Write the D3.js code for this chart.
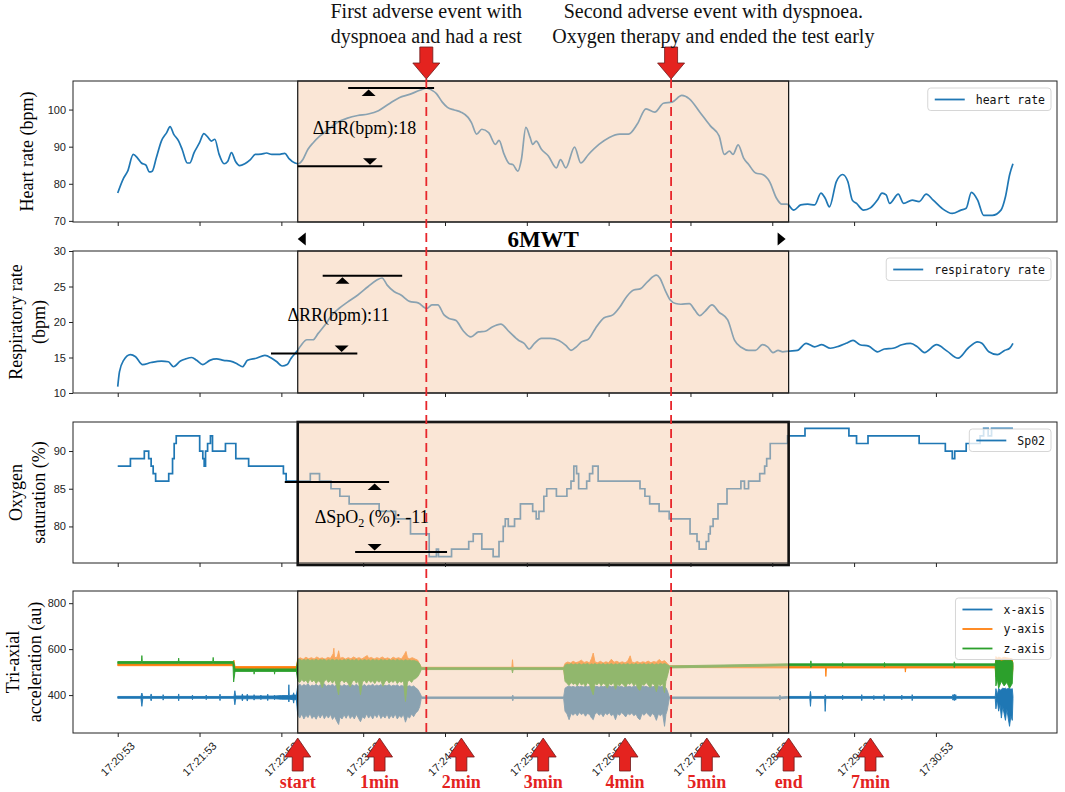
<!DOCTYPE html>
<html><head><meta charset="utf-8">
<script src="https://cdn.jsdelivr.net/npm/d3@7"></script>
<style>body{margin:0;background:#fff}svg{display:block}</style>
</head><body>
<svg id="c" width="1065" height="792"></svg>
<script>
// ---------------- DATA (time in seconds from 17:20:53) ----------------
const timeLabels = ["17:20:53","17:21:53","17:22:53","17:23:53","17:24:53","17:25:53","17:26:53","17:27:53","17:28:53","17:29:53","17:30:53"];
const tickSeconds = [0,60,120,180,240,300,360,420,480,540,600];
const testWindow = [132, 492];
const eventTimes = [226.3, 405.8];
const arrowTimes = [132,192,252,312,372,432,492,552];
const arrowLabels = ["start","1min","2min","3min","4min","5min","end","7min"];

const heartRate = [[0,77.5],[4.3,81.5],[7.3,83.4],[11.4,87.9],[14.4,87],[17.4,85.6],[20.7,85],[23.2,83.2],[25.3,83.4],[28.3,87],[32,91.5],[35.9,93.8],[38.4,95.4],[41,93.4],[44.7,91.5],[47.2,89.3],[51,85.6],[52.8,85.6],[56,88.4],[59.9,91],[63.2,93.5],[66.2,92.5],[68.7,91.5],[71.2,92],[74.3,88],[78,85.4],[80.6,86],[83.4,88.4],[86.4,86],[89.4,84.9],[93.2,85.4],[97.3,86.5],[100.8,87.9],[105.3,88],[109.1,88.3],[113,87.9],[118,87.9],[122.5,88.2],[125.6,86.8],[130,85.6],[132.6,85.4],[135.7,86.5],[139.5,89.3],[143.2,91],[148.3,92.9],[153.3,94.3],[161,96.5],[168.5,97.7],[176,98.4],[183.7,98.8],[191.2,99.7],[198.8,101.5],[206.4,103.2],[214,104.1],[221.6,105.2],[226.6,105.8],[230.4,105.2],[233.7,104.3],[238,102],[241.8,100.6],[246.8,99.9],[251.8,99.3],[256.9,97.9],[259.4,96.5],[263.2,93.4],[267,94.7],[272,93.8],[277,90.6],[279.6,91.7],[283.4,87.9],[287.2,85.4],[289.7,85.2],[293.5,83.4],[296,86.5],[299.3,95.2],[302.4,92.5],[304.3,90.6],[306.9,91.5],[310.7,89.3],[315.8,87.5],[321.7,84.3],[324.7,86.5],[328.6,84.3],[335,89.9],[339.6,85.6],[345.2,87.9],[352.9,90.6],[360.5,92.5],[368.2,93.4],[374.6,93.4],[381,96.1],[387.4,100.2],[393.8,99.3],[400.2,101.7],[406.5,102],[413.7,103.8],[419.2,102.9],[426.9,99.3],[434.6,95.6],[441,92.9],[444.8,87.9],[448.6,88.8],[451.2,87.9],[455,90.5],[458.9,87],[462.7,85.2],[467.8,82.9],[472.9,82.5],[478,80.6],[483.1,76.1],[487,74.5],[490.8,74.5],[495.8,72.9],[500.9,74.3],[506,74.5],[511.1,74.3],[515.7,77.5],[518.8,76.1],[521.9,73.8],[527,80.6],[531.6,82.5],[535.4,80.6],[538.7,75.6],[541.8,74.7],[546.9,72.9],[552,73.5],[557.1,75.6],[560.5,77.5],[563.5,77],[566.1,74.7],[572.4,77.2],[576.3,74.7],[582.6,75.6],[587.7,75.2],[592.9,77.2],[598,75.6],[604.4,73.4],[612,72],[618.4,72.9],[622.2,73.4],[626,77.7],[630.6,75.6],[635,71.5],[641.4,71.5],[647.7,72.9],[651,76.5],[654.1,82.5],[656.5,85.4]];

const respiratoryRate = [[0,10.9],[1.3,13],[4.3,14.6],[9.3,15.4],[13.1,15.1],[18.2,14],[24.5,14.3],[32.1,14.5],[37.1,14.4],[40.9,13.7],[46,14.5],[49.8,14.8],[54.3,15],[57.9,14.6],[62.4,14],[67.5,14.6],[72.5,14.8],[77.6,14.6],[82.6,14.5],[87.7,14.1],[91.5,13.7],[95.2,14.6],[101.6,14.9],[107.9,15.3],[112.9,14.9],[116.7,14.4],[120.5,13.8],[124.3,14],[126.8,14.8],[131.1,15.8],[134.4,16.7],[138.7,17.5],[143.2,17.5],[147,18.4],[152.1,19.6],[157.1,21],[162.2,21.9],[168.5,22.8],[176.1,23.8],[183.7,25],[190,25.9],[193.8,26.2],[197.6,25.2],[202.6,24.3],[207.7,23.8],[214,22.9],[220.3,22.7],[226.6,21.9],[230.4,22.4],[234.7,22.4],[239.3,21],[243.1,20.5],[248.1,20.2],[253.2,18.8],[259,17.9],[264.5,18.6],[269.6,18.7],[274.6,19.3],[280.9,19.7],[287.2,18.6],[294.1,17.4],[298,17],[301.8,16.2],[305.6,17],[310.7,17.7],[317.1,17.7],[323.5,17.4],[328.6,16.7],[332.4,16],[336.3,16.5],[340.1,17.2],[345.2,17.6],[350.3,19.1],[356.7,20.6],[363.1,21],[368.2,22.1],[373.3,23.6],[378.4,24.5],[383.5,24.7],[388.6,25.7],[395,26.6],[397.5,26.2],[401.4,24.5],[405.2,23.1],[409.1,22.6],[412.9,22.5],[419.2,22.6],[423.1,21.7],[426.9,20.9],[430.7,21.5],[435.8,22.4],[440.9,21.4],[447.3,20.3],[452.4,17.4],[457.5,16.4],[462.6,16],[467.7,16],[472.8,16.8],[476.6,16.5],[480.5,15.7],[484.3,16],[487.7,15.8],[492,15.9],[498.4,16],[504.8,17],[511.1,16.5],[516.3,16.8],[522.6,16.3],[529,16.6],[534.1,17],[539.2,17.4],[544.3,16.8],[550.7,16.6],[557.1,15.8],[562.2,16.2],[568.6,16.3],[575,16.8],[581.4,17],[586.5,16.5],[591.6,15.7],[600.5,16.8],[608.2,15.9],[616.3,14.9],[623.5,16.3],[630.6,17.2],[633.7,17],[638.8,15.8],[645.1,15.4],[650.3,16],[654.1,16.3],[656.5,17]];

// SpO2: [time where value starts, value]
const spo2Steps = [[0,88],[9.3,89],[19.5,90],[22.7,89],[24.5,88],[26,87],[27.8,86],[37.4,87],[40.2,89],[41.4,91],[42.9,92],[60.1,90],[62.4,89],[63.4,88],[64.4,90],[65.9,91],[68,92],[69.5,90],[79,91],[86.6,89],[96,88],[121.5,87],[123.5,86],[141.2,87],[148,86],[156.4,85],[162.9,84],[169.7,83],[191.7,82],[203.8,81],[214.7,79],[228.4,76],[233.7,77],[235.2,76],[244.8,77],[257.4,78],[260.7,79],[267,77],[275.3,76],[279.6,78],[282.7,80],[284.2,81],[286.4,80],[291,81],[295.3,83],[304.3,82],[306.9,81],[308.9,82],[312.5,84],[314.6,85],[321.7,84],[329.4,85],[332.4,86],[334.5,88],[336.5,87],[338,85],[343.9,86],[346,87],[348.3,88],[352.3,86],[383,85],[386.6,84],[390.1,83],[397,82],[404.4,81],[419.7,79],[424.8,78],[426.4,77],[431.5,78],[433.3,79],[434.5,80],[436.6,81],[440.2,83],[446.8,85],[457,86],[459.6,85],[462.6,86],[470.8,87],[474.4,88],[475.9,89],[478.5,91],[491.2,92],[504,93],[536.2,92],[541.8,91],[550.2,92],[587.7,91],[606.9,90],[612,89],[613.8,90],[622.2,91],[632.4,92],[635,93],[638.3,92],[640.8,93],[656.5,93]];

// acceleration envelopes: [time, low, high]
const accelX = [[0,386,394],[17,386,394],[17.7,351,409],[18.4,386,394],[24,386,394],[24.5,375,405],[25,386,394],[33,386,394],[33.3,378,402],[33.7,386,394],[44.4,386,394],[44.7,375,405],[45,386,394],[54.5,386,394],[54.8,380,400],[55.1,386,394],[64.6,386,394],[64.9,380,400],[65.2,386,394],[74.7,386,394],[75,376,404],[75.3,386,394],[85.3,386,394],[85.9,358,419],[86.5,384,396],[91,384,396],[91.4,375,405],[91.8,384,396],[94.6,384,396],[95,374,404],[95.4,384,396],[99.7,384,396],[100,378,402],[100.3,384,396],[104.7,384,396],[105,380,400],[105.3,384,396],[109.7,384,396],[110,376,404],[110.3,384,396],[114.7,384,396],[115,380,400],[115.3,384,396],[120,382,398],[125.2,382,398],[125.5,370,445],[125.8,382,398],[128.6,380,400],[129,365,410],[129.4,380,400],[131,380,400],
[132,315,440],[133.5,300,448],[135,318,438],[136.5,296,446],[138,312,441],[139.5,302,450],[141,320,437],[142.5,298,444],[144,310,440],[145.5,295,447],[147,315,439],[148.5,300,445],[150,318,442],[151.5,297,449],[153,312,438],[154.5,300,444],[156,316,441],[157.5,294,447],[159,308,439],[160.5,288,446],[162,272,440],[163,305,444],[164.5,296,438],[166,314,446],[167.5,299,440],[169,318,443],[170.5,298,437],[172,310,445],[173.5,296,440],[175,316,447],[176.5,300,439],[178,284,444],[179.5,306,440],[181,298,446],[182.5,318,438],[184,300,444],[185.5,312,441],[187,296,447],[188.5,316,439],[190,302,444],[191.5,320,440],[193,298,446],[194.5,311,438],[196,300,443],[197.5,317,440],[199,297,446],[200.5,312,438],[202,300,443],[203.5,318,440],[205,296,445],[206.5,310,437],[208,302,442],[209.5,316,439],[211,282,444],[212.5,308,438],[214,300,441],[215.5,318,436],[217,306,440],[218.5,322,432],[220,330,425],[221.5,350,410],[222.5,382,398],
[223,385,392],[289.2,385,392],[289.7,375,400],[290.2,385,392],[327,385,392],
[328,330,430],[329.5,318,436],[331,293,440],[332.5,320,435],[334,312,438],[335.5,322,434],[337,310,440],[338.5,324,436],[340,315,438],[341.5,322,435],[343,308,440],[344.5,320,436],[346,316,438],[347.5,300,435],[348.7,293,440],[350,318,436],[351.5,324,438],[353,312,434],[354.5,320,439],[356,306,436],[357.5,322,438],[359,314,434],[360.5,324,440],[362,310,436],[363.5,318,438],[365,293,435],[366.5,320,440],[368,312,436],[369.5,324,438],[371,316,434],[372.5,305,439],[374,320,436],[375.5,314,438],[377,322,434],[378.5,310,440],[380,318,436],[381.5,300,438],[383,293,435],[384.5,320,440],[386,312,436],[387.5,324,438],[389,316,434],[390.5,306,439],[392,320,436],[393.5,312,438],[395,290,435],[396.5,318,440],[398,310,436],[399.5,322,438],[401,264,436],[402,315,432],[403,335,420],[404.5,385,392],
[485,385,392],[485.6,378,400],[486.2,385,392],[491,386,394],[507.5,386,394],[508,351,416],[508.5,386,394],[518.4,386,394],[518.8,329,401],[519.3,386,394],[531.3,386,394],[531.6,380,400],[532,386,394],[545.3,386,394],[545.6,376,402],[546,386,394],[554.2,386,394],[554.5,380,398],[554.8,386,394],[561.7,386,394],[562,376,402],[562.3,386,394],[574.7,386,394],[575,380,400],[575.3,386,394],[582.3,386,394],[582.6,376,402],[583,386,394],[612,386,394],[612.5,378,402],[613,384,396],[613.5,376,404],[614,384,396],[614.5,378,402],[615,386,394],
[643.5,386,394],[644,340,428],[645,380,400],[646,330,430],[647,360,420],[648,300,425],[649,350,430],[650,320,428],[651,290,430],[652,340,425],[653,300,430],[654,264,430],[655,310,425],[656,290,428],[656.5,385,395]];

const accelY = [[0,528,535],[84.5,528,535],[85.2,515,552],[86,516,524],[131,516,524],
[132,490,558],[134,490,562],[136,490,556],[138,490,565],[140,490,558],[142,490,563],[144,490,557],[146,490,566],[148,490,559],[150,490,562],[152,490,556],[154,490,564],[156,490,560],[158,490,580],[158.5,490,604],[159,490,562],[161,490,566],[162,490,593],[163,490,560],[165,490,564],[167,490,557],[169,490,563],[171,490,558],[173,490,566],[175,490,559],[177,490,563],[179,490,557],[181,490,565],[183,490,572],[184,490,560],[186,490,564],[188,490,557],[190,490,563],[192,490,559],[194,490,566],[196,490,558],[198,490,562],[200,490,556],[202,490,565],[204,490,559],[206,490,563],[208,490,557],[210,490,575],[211.4,490,590],[212.5,490,562],[214,490,558],[216,490,563],[218,495,557],[220,500,552],[222.5,512,522],
[223,513,521],[289,513,521],[289.5,505,554],[290,513,521],[327,513,521],
[328,470,538],[330,470,544],[332,470,540],[334,470,547],[336,470,541],[338,470,545],[340,470,552],[342,470,542],[344,470,546],[346,470,540],[347.5,470,560],[348.7,470,583],[350,470,544],[352,470,541],[354,470,547],[356,470,540],[358,470,545],[360,470,541],[362,470,556],[364,470,543],[366,470,547],[368,470,541],[370,470,545],[372,470,540],[374,470,548],[375.8,470,571],[377,470,544],[379,470,541],[381,470,546],[383,470,540],[385,470,545],[387,470,542],[389,470,548],[391,470,541],[393,470,546],[395,470,543],[397,470,555],[399,470,545],[401,470,550],[403,490,538],[404.5,520,528],
[491,518,526],[519,518,526],[519.3,481,526],[519.7,518,526],[577.3,518,526],[577.6,500,526],[578,518,526],
[643.5,518,526],[644,480,568],[645,500,560],[646,470,566],[648,490,560],[650,470,565],[652,480,562],[654,470,560],[656,490,558],[656.5,515,528]];

const accelZ = [[0,537,546],[17.4,537,546],[17.7,537,572],[18,537,546],[44.4,537,546],[44.7,537,561],[45,537,546],[69.7,537,546],[70,537,564],[70.3,537,546],[84.5,537,546],[85,457,546],[86,503,514],[99.8,503,514],[100,491,514],[100.3,503,514],[114.8,503,514],[115,491,514],[115.3,503,514],[131,503,514],
[132,462,553],[133.5,455,556],[135,468,550],[136.5,458,555],[138,465,551],[139.5,452,556],[141,470,549],[142.5,457,554],[144,466,551],[145.5,450,556],[147,462,550],[148.5,456,555],[150,432,552],[151.5,460,556],[153,468,549],[154.5,455,554],[156,464,551],[157.5,452,556],[159,466,550],[160.5,440,555],[162,401,551],[163,456,554],[164.5,466,549],[166,454,555],[167.5,462,551],[169,450,556],[170.5,435,550],[172,458,554],[173.5,466,550],[175,452,556],[176.5,462,549],[178,401,554],[179.5,458,550],[181,464,555],[182.5,452,550],[184,466,554],[185.5,455,549],[187,462,555],[188.5,450,551],[190,465,554],[191.5,456,549],[193,463,555],[194.5,438,551],[196,458,554],[197.5,466,549],[199,452,555],[200.5,462,550],[202,455,554],[203.5,466,549],[205,450,555],[206.5,460,550],[208,455,553],[209.5,464,549],[211,372,554],[212.5,458,550],[214,465,553],[215.5,455,549],[217,468,551],[218.5,472,548],[220,480,545],[221.5,495,535],[222.5,510,520],
[223,511,519],[289,511,519],[289.5,496,519],[290,511,519],[327,511,519],
[328,460,530],[329.5,450,535],[331,442,533],[332.5,455,537],[334,446,532],[335.5,452,536],[337,440,533],[338.5,456,537],[340,444,532],[341.5,450,536],[343,438,534],[344.5,454,537],[346,446,532],[347.5,420,536],[348.7,401,533],[350,450,537],[351.5,444,532],[353,455,536],[354.5,440,533],[356,452,537],[357.5,446,532],[359,430,536],[360.5,450,533],[362,444,537],[363.5,455,532],[365,425,536],[366.5,448,533],[368,440,537],[369.5,452,532],[371,444,536],[372.5,435,533],[374,452,537],[375.5,446,532],[377,455,536],[378.5,440,533],[380,450,537],[381.5,428,532],[383,420,536],[384.5,448,533],[386,442,537],[387.5,455,532],[389,444,536],[390.5,432,533],[392,450,537],[393.5,445,532],[395,415,536],[396.5,448,533],[398,440,538],[399.5,452,534],[401,410,537],[402,460,535],[403,480,532],[404.5,518,527],
[491,528,536],[508,528,536],[508.3,520,549],[508.7,528,536],[531.3,528,536],[531.6,524,542],[532,528,536],[562,528,536],[562.3,522,542],[562.6,528,536],[613,528,536],[613.5,520,545],[614,528,536],
[643.5,528,536],[644,440,554],[645,470,550],[646,430,552],[648,460,548],[650,440,550],[652,455,552],[654,430,552],[656,450,548],[656.5,520,540]];

// delta annotations (time range / value)
const deltaNotes = [
  {panel:"hr", label:["ΔHR(bpm):18"], at:[143,93.4], high:[169,232,105.8], highMark:184, low:[132,194,84.7], lowMark:185},
  {panel:"rr", label:["ΔRR(bpm):11"], at:[124.5,20.1], high:[150.3,208.6,26.5], highMark:164.8, low:[112.4,175.7,15.55], lowMark:164.2},
  {panel:"sp", label:["ΔSpO","2"," (%): -11"], at:[144.5,80.4], high:[122.5,199,85.9], highMark:188.4, low:[174.1,241.5,76.6], lowMark:188.4}
];
const eventNotes = [
  {t:226.3, textT:226.3, lines:["First adverse event with","dyspnoea and had a rest"]},
  {t:405.8, textT:436.8, lines:["Second adverse event with dyspnoea.","Oxygen therapy and ended the test early"]}
];

// ---------------- CHART ----------------
const svg = d3.select("#c");
const X = d3.scaleLinear().domain([-32.8, 688.8]).range([73, 1057]);
const SERIF = "'Liberation Serif','Times New Roman',serif";
const SANS = "'Liberation Sans',Arial,sans-serif";
const MONO = "'DejaVu Sans Mono',monospace";
const BLUE="#1f77b4", ORANGE="#ff7f0e", GREEN="#2ca02c", RED="#e4231f";

const panels = [
  {key:"hr", top:81, bottom:222, domain:[69.7,107.7], ticks:[70,80,90,100], title:["Heart rate (bpm)"], titleX:[33], legend:[["heart rate",BLUE]]},
  {key:"rr", top:251, bottom:393, domain:[10,30], ticks:[10,15,20,25,30], title:["Respiratory rate","(bpm)"], titleX:[22,45], legend:[["respiratory rate",BLUE]]},
  {key:"sp", top:422, bottom:563, domain:[75.15,93.85], ticks:[80,85,90], title:["Oxygen","saturation (%)"], titleX:[22,45], legend:[["Sp02",BLUE]]},
  {key:"ac", top:591, bottom:733, domain:[235,853], ticks:[400,600,800], title:["Tri-axial","acceleration (au)"], titleX:[19,41], legend:[["x-axis",BLUE],["y-axis",ORANGE],["z-axis",GREEN]]}
];

panels.forEach(p => {
  const y = d3.scaleLinear().domain(p.domain).range([p.bottom, p.top]);
  p.y = y;
  const g = svg.append("g");
  const clipId = "clip-"+p.key;
  g.append("clipPath").attr("id",clipId).append("rect")
    .attr("x",X.range()[0]).attr("y",p.top).attr("width",X.range()[1]-X.range()[0]).attr("height",p.bottom-p.top);
  const dg = g.append("g").attr("clip-path",`url(#${clipId})`);

  if (p.key==="hr" || p.key==="rr") {
    const data = p.key==="hr" ? heartRate : respiratoryRate;
    dg.append("path").datum(data)
      .attr("d", d3.line().x(d=>X(d[0])).y(d=>y(d[1])).curve(d3.curveMonotoneX))
      .attr("fill","none").attr("stroke",BLUE).attr("stroke-width",1.7).attr("stroke-linejoin","round");
  } else if (p.key==="sp") {
    dg.append("path").datum(spo2Steps)
      .attr("d", d3.line().x(d=>X(d[0])).y(d=>y(d[1])).curve(d3.curveStepAfter))
      .attr("fill","none").attr("stroke",BLUE).attr("stroke-width",1.7);
  } else {
    [[accelX,BLUE],[accelY,ORANGE],[accelZ,GREEN]].forEach(([data,col]) => {
      dg.append("path").datum(data)
        .attr("d", d3.area().x(d=>X(d[0])).y0(d=>y(d[1])).y1(d=>y(d[2])))
        .attr("fill",col).attr("stroke",col).attr("stroke-width",0.9).attr("stroke-linejoin","miter");
    });
  }

  // 6MWT shaded window
  const thick = p.key==="sp";
  g.append("rect")
    .attr("x",X(testWindow[0])).attr("y",p.top)
    .attr("width",X(testWindow[1])-X(testWindow[0]))
    .attr("height",(p.bottom-p.top)+(thick?2:0))
    .attr("fill","rgb(245,205,173)").attr("fill-opacity",0.5)
    .attr("stroke","#111").attr("stroke-width",thick?2.6:1.2);

  // delta annotations
  const note = deltaNotes.find(n=>n.panel===p.key);
  if (note) {
    const ag = g.append("g");
    [note.high, note.low].forEach(h => {
      ag.append("line").attr("x1",X(h[0])).attr("x2",X(h[1])).attr("y1",y(h[2])).attr("y2",y(h[2]))
        .attr("stroke","#000").attr("stroke-width",2);
    });
    const hy = y(note.high[2]), hx = X(note.highMark);
    ag.append("path").attr("d",`M${hx},${hy+1.5}L${hx+7},${hy+8}L${hx-7},${hy+8}Z`).attr("fill","#000");
    const ly = y(note.low[2]), lx = X(note.lowMark);
    ag.append("path").attr("d",`M${lx},${ly-1.5}L${lx+7},${ly-8}L${lx-7},${ly-8}Z`).attr("fill","#000");
    const t = ag.append("text").attr("x",X(note.at[0])).attr("y",y(note.at[1]))
      .attr("font-family",SERIF).attr("font-size",18).attr("fill","#000");
    if (note.label.length===1) t.text(note.label[0]);
    else {
      t.append("tspan").text(note.label[0]);
      t.append("tspan").attr("font-size",12).attr("dy",4).text(note.label[1]);
      t.append("tspan").attr("dy",-4).text(note.label[2]);
    }
  }

  // frame
  g.append("rect").attr("x",X.range()[0]).attr("y",p.top)
    .attr("width",X.range()[1]-X.range()[0]).attr("height",p.bottom-p.top)
    .attr("fill","none").attr("stroke","#222").attr("stroke-width",1);

  // y axis
  g.append("g").attr("transform",`translate(${X.range()[0]},0)`)
    .call(d3.axisLeft(y).tickValues(p.ticks).tickSize(4).tickSizeOuter(0).tickPadding(3).tickFormat(d3.format("d")))
    .call(s=>s.select(".domain").remove())
    .call(s=>s.selectAll("line").attr("stroke","#222"))
    .call(s=>s.selectAll("text").attr("font-family",SANS).attr("font-size",11).attr("fill","#222"));
  // x ticks
  g.append("g").attr("transform",`translate(0,${p.bottom})`)
    .call(d3.axisBottom(X).tickValues(tickSeconds).tickSize(4).tickSizeOuter(0).tickFormat(""))
    .call(s=>s.select(".domain").remove())
    .call(s=>s.selectAll("line").attr("stroke","#222"));

  // y titles
  const cy = (p.top+p.bottom)/2;
  p.title.forEach((tt,i)=>{
    g.append("text").attr("transform",`translate(${p.titleX[i]},${cy}) rotate(-90)`)
      .attr("text-anchor","middle").attr("font-family",SERIF).attr("font-size",18).attr("fill","#000").text(tt);
  });

  // legend
  const lg = g.append("g");
  const rowH = 19.5, right = 1051, top = p.top+7;
  const box = lg.append("rect");
  const texts = p.legend.map((it,i)=> lg.append("text").attr("y",top+11.5+i*rowH).attr("dy","0.35em")
      .attr("font-family",MONO).attr("font-size",11.5).attr("fill","#111").text(it[0]));
  const tw = d3.max(texts, t=>t.node().getComputedTextLength());
  const w = 7+30+11+tw+6;
  const x0 = right - w;
  box.attr("x",x0).attr("y",top).attr("width",w).attr("height",p.legend.length*rowH+3)
    .attr("rx",3).attr("fill","#fff").attr("fill-opacity",0.8).attr("stroke","#d6d6d6").attr("stroke-width",1);
  texts.forEach(t=>t.attr("x",x0+48));
  p.legend.forEach((it,i)=>{
    lg.append("line").attr("x1",x0+7).attr("x2",x0+37).attr("y1",top+11.5+i*rowH).attr("y2",top+11.5+i*rowH)
      .attr("stroke",it[1]).attr("stroke-width",1.8);
  });
});

// rotated time labels under last panel
const last = panels[3];
timeLabels.forEach((lab,i)=>{
  const tx = X(tickSeconds[i]), ty = last.bottom+26;
  svg.append("text").attr("x",tx).attr("y",ty).attr("dy","0.35em")
    .attr("transform",`rotate(-45,${tx},${ty})`).attr("text-anchor","middle")
    .attr("font-family",SANS).attr("font-size",11).attr("fill","#222").text(lab);
});

// red dashed event lines
eventTimes.forEach(t=>{
  svg.append("line").attr("x1",X(t)).attr("x2",X(t)).attr("y1",79).attr("y2",last.bottom+2)
    .attr("stroke","#e8262b").attr("stroke-width",1.8).attr("stroke-dasharray","9,5");
});

// top event arrows and text
eventNotes.forEach(e=>{
  const ax = X(e.t);
  svg.append("path")
    .attr("d",`M${ax-6.5},47L${ax+6.5},47L${ax+6.5},63L${ax+13.5},63L${ax},79L${ax-13.5},63L${ax-6.5},63Z`)
    .attr("fill",RED).attr("stroke","#6e1b1b").attr("stroke-width",0.8);
  e.lines.forEach((l,i)=>{
    svg.append("text").attr("x",X(e.textT)).attr("y",18+i*25).attr("text-anchor","middle")
      .attr("font-family",SERIF).attr("font-size",20).attr("fill","#111").text(l);
  });
});

// 6MWT label
const gapY = 239;
svg.append("text").attr("x",(X(testWindow[0])+X(testWindow[1]))/2).attr("y",gapY+8).attr("text-anchor","middle")
  .attr("font-family",SERIF).attr("font-weight","bold").attr("font-size",23).attr("fill","#000").text("6MWT");
const lx = X(testWindow[0]), rx = X(testWindow[1]);
svg.append("path").attr("d",`M${lx},${gapY}L${lx+8},${gapY-6.5}L${lx+8},${gapY+6.5}Z`).attr("fill","#000");
svg.append("path").attr("d",`M${rx-3},${gapY}L${rx-11},${gapY-6.5}L${rx-11},${gapY+6.5}Z`).attr("fill","#000");

// bottom minute arrows
arrowTimes.forEach((t,i)=>{
  const ax = X(t);
  svg.append("path")
    .attr("d",`M${ax},738L${ax+13},757L${ax+5.5},757L${ax+5.5},771L${ax-5.5},771L${ax-5.5},757L${ax-13},757Z`)
    .attr("fill",RED).attr("stroke","#6e1b1b").attr("stroke-width",0.8);
  svg.append("text").attr("x",ax).attr("y",788).attr("text-anchor","middle")
    .attr("font-family",SERIF).attr("font-weight","bold").attr("font-size",18).attr("fill",RED).text(arrowLabels[i]);
});
</script>
</body></html>
